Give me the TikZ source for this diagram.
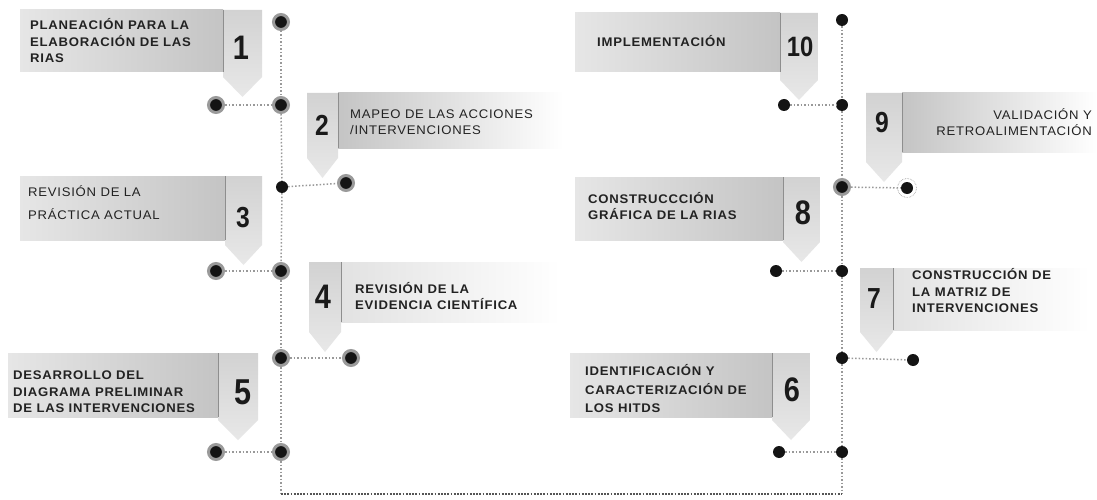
\documentclass[tikz,border=0pt]{standalone}
\usepackage{fontspec}
\setmainfont{Liberation Sans}
\newfontfamily\labfont[FakeStretch=1.05,LetterSpace=6]{Liberation Sans}
\newfontfamily\numfont[FakeStretch=0.85]{Liberation Sans}
\definecolor{banlite}{HTML}{E6E6E6}
\definecolor{bandark}{HTML}{C4C4C4}
\definecolor{banfaint}{HTML}{E2E2E2}
\definecolor{tabtop}{HTML}{D2D2D2}
\definecolor{tabbot}{HTML}{E8E8E8}
\definecolor{sepc}{HTML}{8E8E8E}
\definecolor{spinec}{HTML}{999999}
\definecolor{basec}{HTML}{555555}
\definecolor{txtc}{HTML}{222222}
\definecolor{numc}{HTML}{1A1A1A}
\definecolor{haloc}{HTML}{9A9A9A}
\tikzset{
  lab/.style={font=\labfont\fontsize{12.5}{16.5}\selectfont\bfseries, text=txtc, align=left, inner sep=0pt},
  labr/.style={font=\labfont\fontsize{12.5}{16}\selectfont, text=txtc, align=left, inner sep=0pt},
  num/.style={font=\numfont\fontsize{34}{34}\selectfont\bfseries, text=numc, inner sep=0pt},
  dot/.style={circle, fill=black!92, draw=haloc, line width=3pt, minimum size=15pt, inner sep=0pt},
  dotp/.style={circle, fill=black!92, minimum size=12pt, inner sep=0pt},
  spine/.style={draw=spinec, line width=1.5pt, dash pattern=on 1.5pt off 2pt},
  conn/.style={draw=spinec, line width=1.5pt, dash pattern=on 1.5pt off 2pt},
  baseline/.style={draw=basec, line width=1.8pt, dash pattern=on 1.8pt off 1.4pt},
  sepl/.style={draw=sepc, line width=0.8pt}
}
% left banner: #1 rect left, #2 separator, #3 tab right, #4 top, #5 bottom, #6 tip
\newcommand\lbanner[6]{%
  \shade[left color=banlite, right color=bandark] (#1,#4) rectangle (#2,#5);
  \shade[top color=tabtop, bottom color=tabbot] (#2,#4) -- (#3,#4) -- (#3,#6-20) -- ({(#2+#3)/2},#6) -- (#2,#6-20) -- cycle;
  \draw[sepl] (#2,#4) -- (#2,#5);
}
% right banner: #1 tab left, #2 separator, #3 rect right, #4 top, #5 bottom, #6 tip, #7 rect colour
\newcommand\rbanner[7]{%
  \shade[left color=#7, right color=white] (#2,#4) rectangle (#3,#5);
  \shade[top color=tabtop, bottom color=tabbot] (#1,#4) -- (#2,#4) -- (#2,#6-20) -- ({(#1+#2)/2},#6) -- (#1,#6-20) -- cycle;
  \draw[sepl] (#2,#4) -- (#2,#5);
}
\begin{document}
\begin{tikzpicture}[x=1pt,y=-1pt]
\fill[white] (0,0) rectangle (1097,500);
\useasboundingbox (0,0) rectangle (1097,500);

% banners
\lbanner{20}{223}{262}{10}{72}{97}
\rbanner{307}{338}{563}{93}{148}{178}{bandark}
\lbanner{20}{225}{262}{176}{240}{265}
\rbanner{309}{341}{560}{262}{322}{352}{banfaint}
\lbanner{8}{218}{258}{353}{417}{440}
\lbanner{570}{772}{810}{353}{417}{440}
\rbanner{860}{893}{1090}{268}{330}{352}{banfaint}
\lbanner{575}{783}{820}{177}{240}{262}
\rbanner{866}{902}{1097}{93}{152}{182}{bandark}
\lbanner{575}{780}{818}{13}{72}{100}

% dots, left spine
\node[dot] (L0) at (281,22) {};
\node[dot] (L1a) at (216,105) {};
\node[dot] (L1b) at (281,105) {};
\node[dotp] (L2b) at (282,187) {};
\node[dot] (L2a) at (346,183) {};
\node[dot] (L3a) at (216,271) {};
\node[dot] (L3b) at (281,271) {};
\node[dot] (L4b) at (281,358) {};
\node[dot] (L4a) at (351,358) {};
\node[dot] (L5a) at (216,452) {};
\node[dot] (L5b) at (281,452) {};
\coordinate (Lc) at (281,494);
% dots, right spine
\node[dotp] (R10) at (842,20) {};
\node[dotp] (R10a) at (784,105) {};
\node[dotp] (R10b) at (842,105) {};
\node[dot] (R9b) at (842,187) {};
\node[dotp] (R9a) at (907,188) {};
\node[dotp] (R8a) at (776,271) {};
\node[dotp] (R8b) at (842,271) {};
\node[dotp] (R7b) at (842,358) {};
\node[dotp] (R7a) at (913,360) {};
\node[dotp] (R6a) at (779,452) {};
\node[dotp] (R6b) at (842,452) {};
\coordinate (Rc) at (842,494);
\draw[densely dotted, draw=sepc, line width=0.6pt] (R9a) circle (9.5pt);

% spines
\draw[spine] (L0) -- (L1b);
\draw[spine] (L1b) -- (L2b);
\draw[spine] (L2b) -- (L3b);
\draw[spine] (L3b) -- (L4b);
\draw[spine] (L4b) -- (L5b);
\draw[spine] (L5b) -- (Lc);
\draw[spine] (R10) -- (R10b);
\draw[spine] (R10b) -- (R9b);
\draw[spine] (R9b) -- (R8b);
\draw[spine] (R8b) -- (R7b);
\draw[spine] (R7b) -- (R6b);
\draw[spine] (R6b) -- (Rc);
\draw[baseline] (Lc) -- (Rc);

% connectors
\draw[conn] (L1a) -- (L1b);
\draw[conn] (L2b) -- (L2a);
\draw[conn] (L3a) -- (L3b);
\draw[conn] (L4b) -- (L4a);
\draw[conn] (L5a) -- (L5b);
\draw[conn] (R10a) -- (R10b);
\draw[conn] (R9b) -- (R9a);
\draw[conn] (R8a) -- (R8b);
\draw[conn] (R7b) -- (R7a);
\draw[conn] (R6a) -- (R6b);

% labels
\node[lab, anchor=west] (t1) at (30,41) {PLANEACIÓN PARA LA\\ELABORACIÓN DE LAS\\RIAS};
\node[labr, anchor=west] (t2) at (350,122) {MAPEO DE LAS ACCIONES\\/INTERVENCIONES};
\node[labr, anchor=west] (t3) at (28,203) {REVISIÓN DE LA\\[7pt]PRÁCTICA ACTUAL};
\node[lab, anchor=west] (t4) at (355,296) {REVISIÓN DE LA\\EVIDENCIA CIENTÍFICA};
\node[lab, anchor=west] (t5) at (13,392) {DESARROLLO DEL\\DIAGRAMA PRELIMINAR\\DE LAS INTERVENCIONES};
\node[lab, anchor=west] (t6) at (585,389) {IDENTIFICACIÓN Y\\[2pt]CARACTERIZACIÓN DE\\[2pt]LOS HITDS};
\node[lab, anchor=west] (t7) at (912,291) {CONSTRUCCIÓN DE\\LA MATRIZ DE\\INTERVENCIONES};
\node[lab, anchor=west] (t8) at (588,206) {CONSTRUCCCIÓN\\GRÁFICA DE LA RIAS};
\node[labr, anchor=east, align=right] (t9) at (1092,122.5) {VALIDACIÓN Y\\RETROALIMENTACIÓN};
\node[lab, anchor=west] (t10) at (597,41) {IMPLEMENTACIÓN};

% numbers
\node[num] (n1) at (241,48) {1};
\node[num, font=\numfont\fontsize{29}{29}\selectfont\bfseries] (n2) at (322,125) {2};
\node[num, font=\numfont\fontsize{29}{29}\selectfont\bfseries] (n3) at (243,218) {3};
\node[num] (n4) at (323,297) {4};
\node[num, font=\numfont\fontsize{36}{36}\selectfont\bfseries] (n5) at (243,392) {5};
\node[num] (n6) at (792,390) {6};
\node[num, font=\numfont\fontsize{29}{29}\selectfont\bfseries] (n7) at (874,299) {7};
\node[num] (n8) at (803,213) {8};
\node[num, font=\numfont\fontsize{29}{29}\selectfont\bfseries] (n9) at (882,123) {9};
\node[num, font=\numfont\fontsize{28}{28}\selectfont\bfseries] (n10) at (800,47) {10};
\end{tikzpicture}
\end{document}
